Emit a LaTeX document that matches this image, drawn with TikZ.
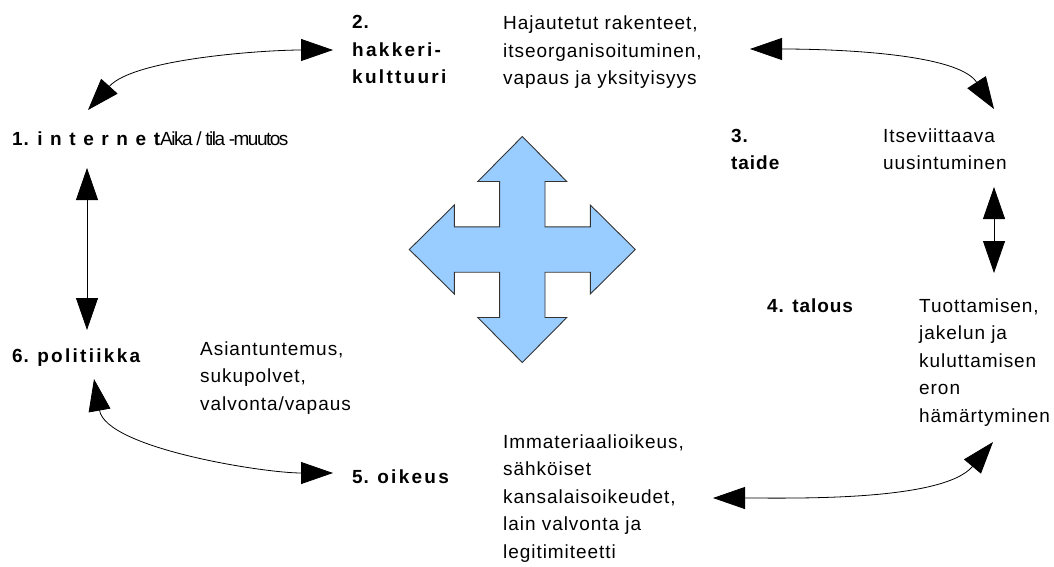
\documentclass[tikz,border=0pt]{standalone}
\usepackage{fontspec}
\setmainfont{Liberation Sans}[LetterSpace=5]
\newfontfamily\wide{Liberation Sans}[LetterSpace=12]
\newfontfamily\widest{Liberation Sans}[LetterSpace=40]
\newfontfamily\tight{Liberation Sans}[LetterSpace=-8]
\usepackage{xcolor}
\definecolor{crossfill}{HTML}{99CCFF}
\definecolor{crossedge}{HTML}{333333}
\usetikzlibrary{arrows.meta}
\tikzset{
  lbl/.style={anchor=base west, inner sep=0pt, align=left, font=\fontsize{19}{27.5}\selectfont},
  hd/.style={lbl, font=\fontsize{19}{27.5}\selectfont\bfseries},
  link/.style={<->, >={Triangle[length=32pt,width=22pt]}, line width=0.8pt, looseness=0.7}
}

\begin{document}
\begin{tikzpicture}[x=1pt,y=1pt]
  \useasboundingbox (0,0) rectangle (1054,-567);
  % themes and their descriptions (placed at the baseline of the last line)
  \node[lbl] (internet) at (12,-145) {{\bfseries 1. {\widest internet}}{\tight Aika / tila -muutos}};
  \node[hd] (hakkeri) at (352,-84) {2.\\{\wide hakkeri-}\\{\wide kulttuuri}};
  \node[lbl] (hajautus) at (503,-85) {Hajautetut rakenteet,\\itseorganisoituminen,\\vapaus ja yksityisyys};
  \node[hd] (taide) at (731,-169.5) {3.\\taide};
  \node[lbl] (uusinta) at (883,-169.5) {Itseviittaava\\uusintuminen};
  \node[hd] (talous) at (767,-312) {4. talous};
  \node[lbl] (tuotanto) at (919,-422) {Tuottamisen,\\jakelun ja\\kuluttamisen\\eron\\hämärtyminen};
  \node[lbl] (immat) at (503,-558) {Immateriaalioikeus,\\sähköiset\\kansalaisoikeudet,\\lain valvonta ja\\legitimiteetti};
  \node[hd] (oikeus) at (352,-483) {5. {\wide oikeus}};
  \node[lbl] (asiantuntemus) at (200,-410) {Asiantuntemus,\\sukupolvet,\\valvonta/vapaus};
  \node[hd] (politiikka) at (12,-362) {6. {\wide politiikka}};

  \coordinate (internetN) at (88,-110);
  \coordinate (internetS) at (87,-168);
  \coordinate (hakkeriW) at (333,-50);
  \coordinate (hajautusE) at (750,-49);
  \coordinate (uusintaN) at (994,-109);
  \coordinate (uusintaS) at (994,-187);
  \coordinate (tuotantoN) at (994,-273);
  \coordinate (tuotantoS) at (993,-442);
  \coordinate (immatE) at (713,-498);
  \coordinate (oikeusW) at (333,-473);
  \coordinate (politiikkaS) at (94,-379);
  \coordinate (politiikkaN) at (87,-330);

  \draw[link] (internetN) to[out=48,in=180] (hakkeriW);
  \draw[link] (hajautusE) to[out=0,in=123] (uusintaN);
  \draw[link] (uusintaS) -- (tuotantoN);
  \draw[link] (immatE) to[out=0,in=230] (tuotantoS);
  \draw[link] (politiikkaS) to[out=-80,in=180] (oikeusW);
  \draw[link] (internetS) -- (politiikkaN);

  \begin{scope}[shift={(522.3,-249.5)}]
    \filldraw[fill=crossfill, draw=crossedge, line width=0.9pt, line join=miter]
      (0,113) -- (44.5,68) -- (22.7,68) -- (22.7,22.7) -- (68,22.7) -- (68,44.5)
      -- (113,0) -- (68,-44.5) -- (68,-22.7) -- (22.7,-22.7) -- (22.7,-68) -- (44.5,-68)
      -- (0,-113) -- (-44.5,-68) -- (-22.7,-68) -- (-22.7,-22.7) -- (-68,-22.7) -- (-68,-44.5)
      -- (-113,0) -- (-68,44.5) -- (-68,22.7) -- (-22.7,22.7) -- (-22.7,68) -- (-44.5,68) -- cycle;
  \end{scope}
\end{tikzpicture}
\end{document}
